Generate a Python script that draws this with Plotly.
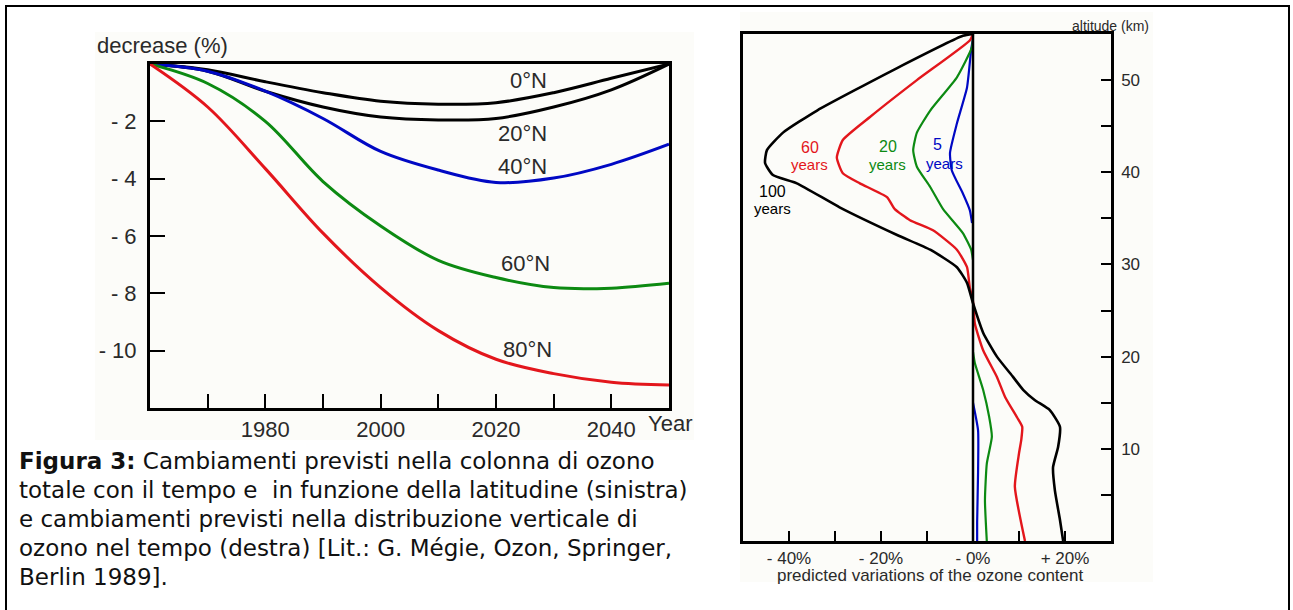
import plotly.graph_objects as go

W, H = 1293, 610

def px(x):
    return x / W

def py(y):
    return 1 - y / H

# ---------------- Left chart data: total ozone column decrease ----------------
years = [1960, 1970, 1980, 1990, 2000, 2010, 2020, 2030, 2040, 2050]
lat0 = [0, -0.2, -0.62, -1.0, -1.3, -1.4, -1.35, -1.0, -0.5, 0]
lat20 = [0, -0.25, -0.95, -1.5, -1.85, -1.95, -1.9, -1.5, -0.9, 0]
lat40 = [0, -0.25, -0.95, -1.9, -3.05, -3.7, -4.13, -3.98, -3.5, -2.8]
lat60 = [0, -0.68, -2.0, -4.1, -5.65, -6.85, -7.45, -7.8, -7.82, -7.65]
lat80 = [0, -1.5, -3.65, -5.9, -7.8, -9.3, -10.3, -10.8, -11.1, -11.2]

left_yticks = [-2, -4, -6, -8, -10]
left_yticktext = ["- 2", "- 4", "- 6", "- 8", "- 10"]
left_xticks = [1970, 1980, 1990, 2000, 2010, 2020, 2030, 2040]
left_xticktext = ["", "1980", "", "2000", "", "2020", "", "2040"]

# ---------------- Right chart data: vertical distribution ----------------
alt100 = [55, 54.8, 51.3, 46.7, 44.3, 42.4, 41.0, 39.7, 38.8, 36.2, 33.2, 31.6, 29.7, 28.0, 25.8,
          22.6, 20.0, 17.8, 16.4, 15.3, 14.2, 12.4, 10.2, 8.0, 5.5, 2.3, 0]
var100 = [0, -2.2, -16.5, -33.9, -41.3, -44.8, -45.2, -43.5, -38.3, -29.0, -16.5, -9.3, -3.5, -1.3, 0,
          2.2, 5.2, 8.7, 10.9, 13.4, 16.7, 18.9, 18.5, 17.4, 17.8, 18.9, 19.6]

alt60 = [55, 54.3, 50.0, 46.0, 43.5, 41.6, 39.9, 38.8, 37.3, 36.0, 34.8, 33.7, 31.6, 29.7, 27.5, 26.0,
         23.6, 20.7, 17.8, 15.6, 13.4, 12.4, 11.0, 9.5, 5.9, 0]
var60 = [0, -0.7, -12.2, -22.4, -28.3, -29.6, -28.3, -24.6, -18.7, -17.0, -13.7, -8.7, -3.5, -1.3, -0.7, 0,
         0.4, 2.2, 5.2, 7.0, 9.6, 10.7, 10.5, 10.0, 9.1, 11.3]

alt20 = [55, 53.6, 50.3, 46.7, 44.3, 42.4, 40.6, 38.4, 36.0, 33.4, 31.6, 30.5, None,
         20.5, 19.3, 16.4, 13.5, 11.3, 8.4, 4.4, 0]
var20 = [0, -0.2, -3.5, -9.3, -12.2, -13.0, -12.2, -9.3, -6.5, -2.2, -0.4, 0, None,
         0, 0.4, 2.2, 3.5, 4.1, 3.0, 2.6, 3.0]

alt5 = [54.5, 53.3, 49.2, 45.3, 42.1, 40.2, 37.7, 35.9, 34.5, None, 15.0, 12.0, 7.4, 2.0, 0]
var5 = [0, -0.4, -1.3, -3.5, -5.0, -4.6, -2.2, -0.7, -0.2, None, 0, 1.1, 1.1, 0.9, 0.9]

right_yticks = [5, 10, 15, 20, 25, 30, 35, 40, 45, 50]
right_yticktext = ["", "10", "", "20", "", "30", "", "40", "", "50"]
right_xticks = [-40, -30, -20, -10, 0, 10, 20]
right_xticktext = ["- 40%", "", "- 20%", "", "- 0%", "", "+ 20%"]

RED = "#e3161c"
GREEN = "#0c8a12"
BLUE = "#0008c4"
BLACK = "#000000"
TXT = "#2a2a2a"
CHART_FONT = "Liberation Sans, Arial, sans-serif"

fig = go.Figure()

# left chart traces
for vals, col in [(lat0, BLACK), (lat20, BLACK), (lat40, BLUE), (lat60, GREEN), (lat80, RED)]:
    fig.add_trace(go.Scatter(x=years, y=vals, mode="lines", line=dict(color=col, width=3, shape="spline", smoothing=1.0),
                             xaxis="x", yaxis="y", showlegend=False, hoverinfo="skip"))

# right chart traces
for alts, vals, col, w in [(alt5, var5, BLUE, 2.2), (alt20, var20, GREEN, 2.2), (alt60, var60, RED, 2.4),
                           (alt100, var100, BLACK, 2.6)]:
    fig.add_trace(go.Scatter(x=vals, y=alts, mode="lines", line=dict(color=col, width=w, shape="spline", smoothing=0.5),
                             xaxis="x2", yaxis="y2", showlegend=False, hoverinfo="skip", connectgaps=False))

axis_common = dict(showgrid=False, zeroline=False, showline=True, mirror=True, linecolor="black",
                   ticks="inside", tickcolor="black", tickfont=dict(family=CHART_FONT, color=TXT))

fig.update_layout(
    width=W, height=H,
    margin=dict(l=0, r=0, t=0, b=0),
    paper_bgcolor="white", plot_bgcolor="white",
    showlegend=False,
    xaxis=dict(axis_common, domain=[px(150), px(669)], range=[1960, 2050], linewidth=3,
               tickvals=left_xticks, ticktext=left_xticktext, ticklen=14, tickwidth=2,
               tickfont=dict(family=CHART_FONT, color=TXT, size=22), ticklabelstandoff=0, anchor="y"),
    yaxis=dict(axis_common, domain=[py(408), py(64)], range=[-12, 0], linewidth=3,
               tickvals=left_yticks, ticktext=left_yticktext, ticklen=15, tickwidth=2,
               tickfont=dict(family=CHART_FONT, color=TXT, size=22), ticklabelstandoff=6, anchor="x"),
    xaxis2=dict(axis_common, domain=[px(743), px(1111)], range=[-50, 30], linewidth=2.5,
                tickvals=right_xticks, ticktext=right_xticktext, ticklen=10, tickwidth=2,
                tickfont=dict(family=CHART_FONT, color=TXT, size=17), ticklabelstandoff=0, anchor="y2"),
    yaxis2=dict(axis_common, domain=[py(541), py(34)], range=[0, 55], linewidth=2.5, side="right",
                tickvals=right_yticks, ticktext=right_yticktext, ticklen=10, tickwidth=2,
                tickfont=dict(family=CHART_FONT, color=TXT, size=17), ticklabelstandoff=4, anchor="x2"),
)

shapes = [
    # faint image backgrounds
    dict(type="rect", xref="paper", yref="paper", x0=px(95), x1=px(694), y0=py(440), y1=py(32),
         fillcolor="#fcfcf9", line=dict(width=0), layer="below"),
    dict(type="rect", xref="paper", yref="paper", x0=px(740), x1=px(1153), y0=py(582), y1=py(12),
         fillcolor="#fcfcf9", line=dict(width=0), layer="below"),
    # outer frame
    dict(type="rect", xref="paper", yref="paper", x0=px(6), x1=px(1289), y0=py(640), y1=py(6),
         line=dict(color="black", width=2), fillcolor="rgba(0,0,0,0)"),
    # zero line of right chart
    dict(type="line", xref="x2", yref="y2", x0=0, x1=0, y0=0, y1=55, line=dict(color="black", width=2.5),
         layer="above"),
]
fig.update_layout(shapes=shapes)

ann = []

def text(x, y, s, size, color=TXT, family=CHART_FONT, xanchor="center"):
    ann.append(dict(xref="paper", yref="paper", x=px(x), y=py(y), text=s, showarrow=False,
                    xanchor=xanchor, yanchor="middle", font=dict(family=family, size=size, color=color)))

# left chart texts
text(95, 46, "decrease (%)", 22, xanchor="left")
text(670, 423, "Year", 22)
text(528, 80, "0°N", 22)
text(522, 134, "20°N", 22)
text(522, 167, "40°N", 22)
text(525, 264, "60°N", 22)
text(527, 349, "80°N", 22)

# right chart texts
text(1110, 26, "altitude (km)", 14)
text(930, 575, "predicted variations of the ozone content", 17)
text(810, 147, "60", 16, RED)
text(810, 165, "years", 15, RED)
text(888, 146, "20", 16, GREEN)
text(887, 165, "years", 15, GREEN)
text(937, 145, "5", 16, BLUE)
text(945, 163, "years", 15, BLUE)
text(772, 191, "100", 16, BLACK)
text(772, 209, "years", 15, BLACK)

# caption
CAP_FONT = "DejaVu Sans, Verdana, sans-serif"
caption = [
    "<b>Figura 3:</b> Cambiamenti previsti nella colonna di ozono",
    "totale con il tempo e  in funzione della latitudine (sinistra)",
    "e cambiamenti previsti nella distribuzione verticale di",
    "ozono nel tempo (destra) [Lit.: G. Mégie, Ozon, Springer,",
    "Berlin 1989].",
]
for i, line in enumerate(caption):
    text(17, 461 + 29 * i, line, 23, color="#111111", family=CAP_FONT, xanchor="left")

fig.update_layout(annotations=ann)

fig.write_html("out.html", config={"displayModeBar": False},
               post_script="document.body.style.margin='0';document.body.style.overflow='hidden';")
